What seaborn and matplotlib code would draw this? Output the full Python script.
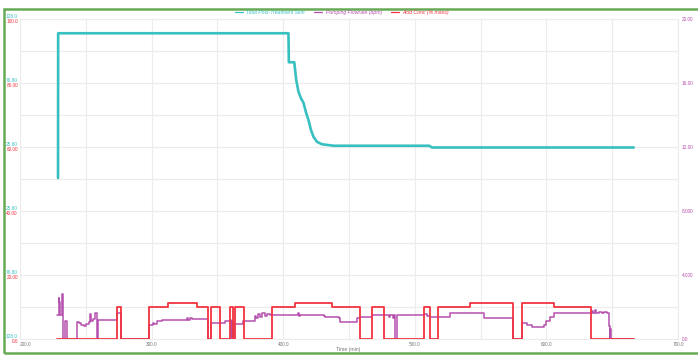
import matplotlib
matplotlib.use("Agg")
import matplotlib.pyplot as plt
import seaborn as sns
from matplotlib.patches import Rectangle
from matplotlib.lines import Line2D

# ---------------- data ----------------
skin_time = [228.9, 229.0, 404.0, 404.3, 408.4, 409.9, 411.6, 413.5, 415.4, 417.5,
             419.2, 421.1, 423.0, 425.6, 429.4, 438.3, 511.0, 513.0, 666.4]
skin_value = [0.8, 116.6, 116.6, 93.4, 93.4, 79.2, 69.8, 64.6, 61.0, 52.6,
              47.2, 39.2, 33.8, 29.8, 27.8, 26.6, 26.6, 25.2, 25.2]

acid_time = [228.4, 274.0, 276.6, 298.4, 312.3, 334.6, 343.2, 345.0, 351.6, 359.7,
             361.8, 363.2, 370.5, 391.4, 409.1, 437.0, 458.6, 467.4, 476.3, 507.2,
             511.8, 517.4, 542.2, 574.7, 581.5, 605.6, 634.0, 666.4]
acid_value = [0, 10, 0, 10, 11.4, 10, 0, 10, 0, 10,
              0, 10, 0, 10, 11.4, 10, 0, 10, 0, 10,
              0, 10, 11.4, 0, 11.4, 10, 0, 0]

pump_time = [228.4, 229.3, 229.9, 230.4, 231.6, 232.3, 232.8, 234.4, 235.6, 243.1,
             245.0, 246.3, 248.5, 250.0, 252.2, 253.0, 253.6, 255.3, 256.8, 257.6,
             258.6, 259.0, 273.9, 276.6, 298.4, 301.2, 302.0, 304.0, 307.7, 326.8,
             327.5, 329.0, 330.5, 336.5, 337.0, 343.2, 345.0, 355.9, 359.7, 360.5,
             361.0, 362.2, 362.8, 369.8, 371.1, 378.7, 379.5, 380.5, 382.0, 384.0,
             386.0, 388.0, 390.1, 411.0, 411.7, 412.5, 430.7, 432.0, 442.1, 443.4,
             456.0, 458.5, 467.4, 480.1, 481.0, 483.5, 484.2, 485.2, 486.4, 507.2,
             509.0, 511.8, 527.0, 552.3, 574.7, 581.5, 585.0, 589.1, 598.0, 599.5,
             601.0, 603.0, 605.6, 633.5, 634.5, 635.5, 637.0, 638.0, 640.0, 642.0,
             644.0, 646.2, 647.5, 648.0, 648.7, 649.3, 666.4]
pump_value = [1.5, 2.55, 2.3, 1.5, 2.8, 2.6, 0, 1.1, 0, 1.08,
              1.0, 0.85, 0.8, 0.95, 1.05, 1.55, 1.1, 1.25, 1.6, 1.65,
              0, 1.17, 1.6, 0, 0.85, 1.0, 0.95, 1.1, 1.2, 1.3,
              1.2, 1.3, 1.23, 1.28, 1.23, 0, 0.98, 1.1, 1.2, 0,
              1.1, 0, 0.95, 1.1, 1.15, 1.45, 1.3, 1.55, 1.4, 1.6,
              1.45, 1.55, 1.52, 1.6, 1.45, 1.52, 1.45, 1.36, 1.3, 1.08,
              1.3, 1.4, 1.5, 1.35, 1.5, 1.3, 1.5, 0, 1.5, 1.55,
              1.45, 1.4, 1.6, 1.3, 0, 0.98, 0.9, 0.72, 0.85, 1.1,
              1.15, 1.4, 1.6, 1.65, 1.75, 1.6, 1.8, 1.6, 1.7, 1.65,
              1.7, 1.65, 0.8, 0, 0.6, 0, 0]

x_ticks = [200, 300, 400, 500, 600, 700]
x_tick_labels = ["200.0", "300.0", "400.0", "500.0", "600.0", "700.0"]
skin_ticks = [128, 76.8, 25.6, -25.6, -76.8, -128]
skin_tick_labels = ["128.0", "76.80", "25.60", "25.60", "76.80", "128.0"]
acid_ticks = [0, 20, 40, 60, 80, 100]
acid_tick_labels = ["0.0", "20.00", "40.00", "60.00", "80.00", "100.0"]
pump_ticks = [0, 4, 8, 12, 16, 20]
pump_tick_labels = ["0.0", "4.000", "8.000", "12.00", "16.00", "20.00"]

series_names = ["Total Post-Treatment Skin", "Pumping Flowrate (bpm)", "Acid Conc (% mass)"]

# ---------------- styling ----------------
sns.set_style("white")
plt.rcParams['font.family'] = ['Liberation Sans', 'DejaVu Sans']

C_SKIN = "#38bfc0"
C_PUMP = "#b54fae"
C_ACID = "#f2333f"
GRID = "#ececec"
FS = 3.4

W, H = 698, 356
fig = plt.figure(figsize=(W / 100, H / 100), dpi=100)
L, R, T, B = 20, 678, 19, 339
rect = [L / W, 1 - B / H, (R - L) / W, (B - T) / H]

ax_p = fig.add_axes(rect)
ax_c = ax_p.twinx()
ax_r = ax_p.twinx()

# pumping flowrate (right axis)
sns.lineplot(x=pump_time, y=pump_value, ax=ax_p, color=C_PUMP, linewidth=1.1,
             drawstyle="steps-post", sort=False, estimator=None)
# total skin (left axis, cyan)
sns.lineplot(x=skin_time, y=skin_value, ax=ax_c, color=C_SKIN, linewidth=1.9,
             sort=False, estimator=None)
# acid conc (left axis, red)
sns.lineplot(x=acid_time, y=acid_value, ax=ax_r, color=C_ACID, linewidth=1.3,
             drawstyle="steps-post", sort=False, estimator=None)

ax_p.set_xlim(200, 700)
ax_p.set_ylim(0, 20)
ax_c.set_ylim(-128, 128)
ax_r.set_ylim(0, 100)

# grid
ax_p.set_xticks(x_ticks, x_tick_labels, fontsize=FS, color="#777777")
ax_p.set_xticks([250, 350, 450, 550, 650], minor=True)
ax_p.get_xticklabels()[0].set_horizontalalignment("left")
ax_p.set_yticks([2, 6, 10, 14, 18], minor=True)
ax_p.yaxis.tick_right()
ax_p.set_yticks(pump_ticks, pump_tick_labels, fontsize=FS, color=C_PUMP)
ax_p.grid(which="both", color=GRID, linewidth=0.8)
ax_p.tick_params(axis="both", which="both", length=0)
ax_p.tick_params(axis="x", pad=2)
ax_p.tick_params(axis="y", pad=2.5)
for s in ax_p.spines.values():
    s.set_color(GRID)
    s.set_linewidth(0.8)

ax_c.yaxis.tick_left()
ax_c.set_yticks(skin_ticks, skin_tick_labels, fontsize=FS, color=C_SKIN, va="bottom")
ax_c.tick_params(axis="y", length=0, pad=2)
ax_r.yaxis.tick_left()
ax_r.set_yticks(acid_ticks, acid_tick_labels, fontsize=FS, color=C_ACID, va="top")
ax_r.tick_params(axis="y", length=0, pad=1.5)
for a in (ax_c, ax_r):
    a.grid(False)
    for s in a.spines.values():
        s.set_visible(False)
for a in (ax_p, ax_c, ax_r):
    a.set_xlabel("")
    a.set_ylabel("")

fig.text(348 / W, 1 - 349 / H, "Time (min)", ha="center", va="center",
         fontsize=3.7, color="#777777")

handles = [Line2D([], [], color=c, linewidth=0.9) for c in (C_SKIN, C_PUMP, C_ACID)]
fig.legend(handles, series_names, loc="center", bbox_to_anchor=(342 / W, 1 - 12.5 / H),
           ncol=3, frameon=False, prop={"size": 3.7, "style": "italic"},
           handlelength=1.6, handletextpad=0.6, columnspacing=1.8,
           labelcolor="linecolor", borderpad=0)

# green frame
fig.patches.append(Rectangle((4 / W, 1 - 353 / H), 1.2, (353 - 9) / H,
                             transform=fig.transFigure, fill=False,
                             edgecolor="#66aa55", linewidth=1.8, clip_on=False))

fig.savefig("out.png", dpi=100)
